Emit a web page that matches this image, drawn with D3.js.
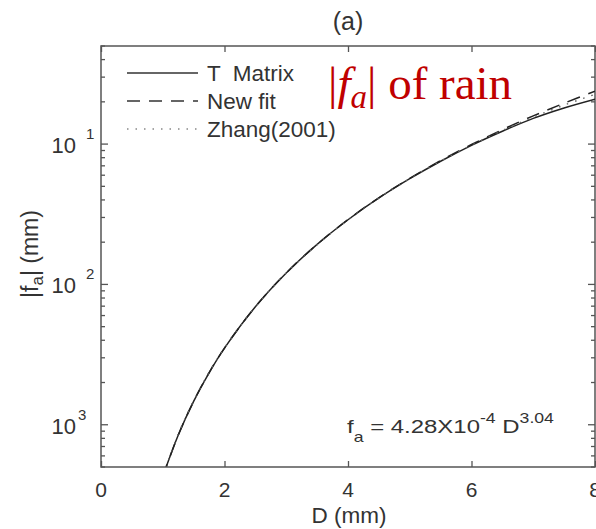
<!DOCTYPE html>
<html>
<head>
<meta charset="utf-8">
<script src="https://cdn.jsdelivr.net/npm/d3@7"></script>
<style>
  html, body { margin: 0; padding: 0; background: #fff; }
  svg { display: block; }
  text { font-family: "Liberation Sans", Arial, sans-serif; fill: #333; }
</style>
</head>
<body>
<svg id="chart" width="596" height="529"></svg>
<script>
// Raindrop diameter (mm)
const diam = [1.0, 1.25, 1.5, 1.75, 2.0, 2.5, 3.0, 3.5, 4.0, 4.5, 5.0, 5.5, 6.0, 6.5, 7.0, 7.5, 8.0];
// |f_a| (mm) for each diameter
const tMatrix = [4.28e-4, 8.43e-4, 1.468e-3, 2.346e-3, 3.52e-3, 6.94e-3, 1.207e-2, 1.929e-2, 2.89e-2, 4.13e-2, 5.67e-2, 7.55e-2, 9.80e-2, 0.1235, 0.1525, 0.1810, 0.209];
const newFit  = [4.28e-4, 8.43e-4, 1.468e-3, 2.346e-3, 3.520e-3, 6.937e-3, 1.2075e-2, 1.929e-2, 2.895e-2, 4.142e-2, 5.705e-2, 7.623e-2, 9.93e-2, 0.1267, 0.1588, 0.1956, 0.238];
const zhang   = [4.35e-4, 8.55e-4, 1.48e-3, 2.36e-3, 3.54e-3, 6.95e-3, 1.205e-2, 1.92e-2, 2.88e-2, 4.12e-2, 5.66e-2, 7.56e-2, 9.80e-2, 0.1250, 0.1555, 0.1895, 0.226];

const xTicks = [0, 2, 4, 6, 8];
const yTicks = [1e-1, 1e-2, 1e-3];
const yTickSup = ["1", "2", "3"];
const yTickSupGap = [10, 10, 2];

const seriesNames = ["T  Matrix", "New fit", "Zhang(2001)"];
const seriesData = [tMatrix, newFit, zhang];
const seriesDash = [null, "13,9", "1.5,7"];

const svg = d3.select("#chart");
const plotLeft = 101, plotRight = 595, plotTop = 46, plotBottom = 467;

const x = d3.scaleLinear().domain([0, 8]).range([plotLeft, plotRight]);
const y = d3.scaleLog().domain([5e-4, 0.5]).range([plotBottom, plotTop]);

const axisColor = "#555";

// clip region for the curves
svg.append("defs").append("clipPath").attr("id", "plotClip")
  .append("rect").attr("x", plotLeft).attr("y", plotTop)
  .attr("width", plotRight - plotLeft).attr("height", plotBottom - plotTop);

// frame
svg.append("rect")
  .attr("x", plotLeft).attr("y", plotTop)
  .attr("width", plotRight - plotLeft).attr("height", plotBottom - plotTop)
  .attr("fill", "none").attr("stroke", axisColor).attr("stroke-width", 1.5);

// y tick positions: every 1..9 x 10^e inside the domain
const minorY = [];
for (let e = -4; e <= 0; e++) {
  for (let m = 1; m <= 9; m++) {
    const v = m * Math.pow(10, e);
    if (v >= 5e-4 && v <= 0.5) minorY.push(v);
  }
}
const major = new Set(yTicks.map(v => v.toExponential(3)));

const bottomAxis = d3.axisBottom(x).tickValues(xTicks).tickSize(-6).tickFormat("");
const topAxis = d3.axisTop(x).tickValues(xTicks).tickSize(-6).tickFormat("");

function styleAxis(g) {
  g.select(".domain").remove();
  g.selectAll("line").attr("stroke", axisColor).attr("stroke-width", 1.3);
}
svg.append("g").attr("transform", `translate(0,${plotBottom})`).call(bottomAxis).call(styleAxis);
svg.append("g").attr("transform", `translate(0,${plotTop})`).call(topAxis).call(styleAxis);

// y ticks (major longer than minor), pointing inward on left and right edges
[plotLeft, plotRight].forEach((ex, i) => {
  const dir = i === 0 ? 1 : -1;
  svg.append("g").selectAll("line").data(minorY).join("line")
    .attr("x1", ex)
    .attr("x2", d => ex + dir * (major.has(d.toExponential(3)) ? 7 : 4))
    .attr("y1", d => y(d)).attr("y2", d => y(d))
    .attr("stroke", axisColor).attr("stroke-width", 1.3);
});

// x tick labels
svg.append("g").selectAll("text").data(xTicks).join("text")
  .attr("x", d => x(d)).attr("y", 497)
  .attr("text-anchor", "middle").attr("font-size", 21)
  .text(d => d);

// y tick labels: "10" with superscript
const yl = svg.append("g").selectAll("g").data(yTicks).join("g");
yl.append("text")
  .attr("x", 76).attr("y", d => y(d) + 9)
  .attr("text-anchor", "end").attr("font-size", 22)
  .text("10");
yl.append("text")
  .attr("x", (d, i) => 76 + yTickSupGap[i]).attr("y", d => y(d) - 5)
  .attr("font-size", 15)
  .text((d, i) => yTickSup[i]);

// axis titles
svg.append("text").attr("x", 349).attr("y", 523)
  .attr("text-anchor", "middle").attr("font-size", 22.5).text("D (mm)");

const yTitle = svg.append("text")
  .attr("transform", "translate(38,254) rotate(-90)")
  .attr("text-anchor", "middle").attr("font-size", 23);
yTitle.append("tspan").text("|f");
yTitle.append("tspan").attr("dy", 5).attr("font-size", 17).text("a");
yTitle.append("tspan").attr("dy", -5).text("| (mm)");

// panel title
svg.append("text").attr("x", 348).attr("y", 30)
  .attr("text-anchor", "middle").attr("font-size", 25).text("(a)");

// curves
const line = d3.line()
  .x((d, i) => x(diam[i]))
  .y(d => y(d))
  .curve(d3.curveCatmullRom.alpha(0.5));

const curves = svg.append("g").attr("clip-path", "url(#plotClip)");
seriesData.forEach((vals, k) => {
  curves.append("path")
    .attr("d", line(vals))
    .attr("fill", "none")
    .attr("stroke", k === 2 ? "#666" : "#222")
    .attr("stroke-width", k === 2 ? 1.4 : 1.5)
    .attr("stroke-dasharray", seriesDash[k]);
});

// legend
const legendRows = [73, 101, 129];
const lg = svg.append("g").selectAll("g").data(seriesNames).join("g");
lg.append("line")
  .attr("x1", 127).attr("x2", 198)
  .attr("y1", (d, i) => legendRows[i]).attr("y2", (d, i) => legendRows[i])
  .attr("stroke", (d, i) => i === 2 ? "#888" : "#333")
  .attr("stroke-width", 1.4)
  .attr("stroke-dasharray", (d, i) => seriesDash[i]);
lg.append("text")
  .attr("x", 207).attr("y", (d, i) => legendRows[i] + 8)
  .attr("font-size", 22.5)
  .style("white-space", "pre")
  .text(d => d);

// red annotation
const note = svg.append("text")
  .attr("x", 328).attr("y", 99)
  .attr("font-size", 47)
  .style("font-family", "'Liberation Serif', 'Times New Roman', serif")
  .style("fill", "#c00000");
note.append("tspan").text("|");
note.append("tspan").style("font-style", "italic").text("f");
note.append("tspan").style("font-style", "italic").attr("font-size", 33).attr("dy", 9).text("a");
note.append("tspan").attr("dy", -9).text("| of rain");

// fitted relation (slightly widened glyphs)
const eq = svg.append("text")
  .attr("transform", "translate(347,433) scale(1.26,1)")
  .attr("font-size", 19);
eq.append("tspan").text("f");
eq.append("tspan").attr("font-size", 14).attr("dy", 9).text("a");
eq.append("tspan").attr("dy", -9).text(" = 4.28X10");
eq.append("tspan").attr("font-size", 14).attr("dy", -10).text("-4");
eq.append("tspan").attr("dy", 10).text(" D");
eq.append("tspan").attr("font-size", 14).attr("dy", -10).text("3.04");
</script>
</body>
</html>
